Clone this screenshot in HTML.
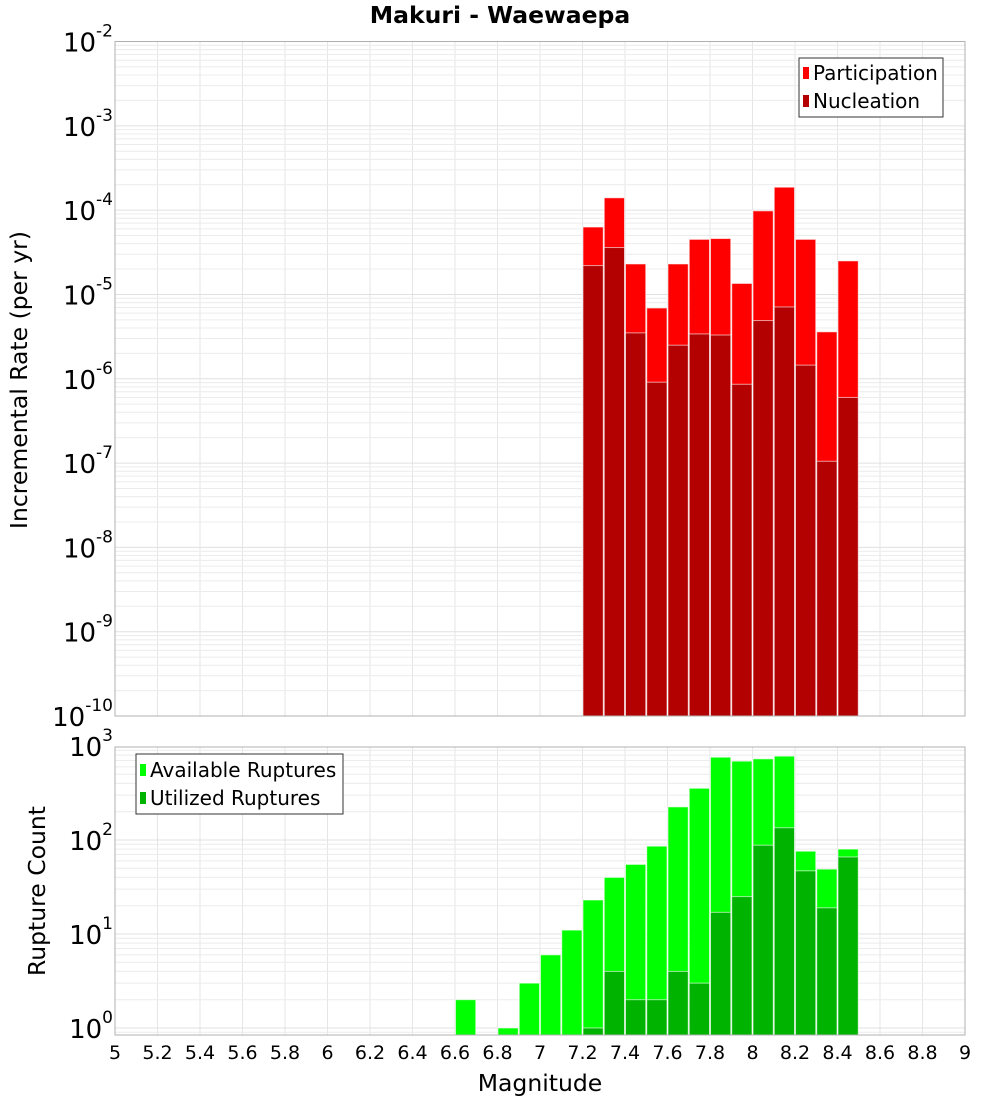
<!DOCTYPE html>
<html><head><meta charset="utf-8"><style>
body{margin:0;background:#fff;}
svg{display:block;font-family:"DejaVu Sans","Liberation Sans",sans-serif;}
</style></head><body>
<svg id="chart" width="1000" height="1100" viewBox="0 0 1000 1100" xmlns="http://www.w3.org/2000/svg">
<g id="grid"></g><g id="bars"></g><g id="axes"></g>
</svg>
<script>
const binStarts = [7.2,7.3,7.4,7.5,7.6,7.7,7.8,7.9,8.0,8.1,8.2,8.3,8.4];
const participation = [6.3e-5,1.4e-4,2.3e-5,6.9e-6,2.3e-5,4.5e-5,4.6e-5,1.35e-5,9.8e-5,1.87e-4,4.5e-5,3.6e-6,2.5e-5];
const nucleation = [2.2e-5,3.6e-5,3.5e-6,9.1e-7,2.5e-6,3.4e-6,3.3e-6,8.6e-7,4.9e-6,7.1e-6,1.45e-6,1.05e-7,6.0e-7];
const countBins = [6.6,6.8,6.9,7.0,7.1,7.2,7.3,7.4,7.5,7.6,7.7,7.8,7.9,8.0,8.1,8.2,8.3,8.4];
const available = [2,1,3,6,11,23,40,55,86,225,355,760,690,730,780,76,49,80];
const utilBins = [7.2,7.3,7.4,7.5,7.6,7.7,7.8,7.9,8.0,8.1,8.2,8.3,8.4];
const utilized = [1,4,2,2,4,3,17,25,88,135,47,19,66];
const xTicks = [5,5.2,5.4,5.6,5.8,6,6.2,6.4,6.6,6.8,7,7.2,7.4,7.6,7.8,8,8.2,8.4,8.6,8.8,9];
const topExps = [-2,-3,-4,-5,-6,-7,-8,-9,-10];
const botExps = [3,2,1,0];

const NS="http://www.w3.org/2000/svg";
const X0=115,X1=965;
const x=m=>X0+(m-5)*(X1-X0)/4;
const T0=41.5,T1=716;
const yTop=v=>T0+(-2-Math.log10(v))*(T1-T0)/8;
const B0=747,B1=1035;
const yBot=v=>1028-Math.log10(v)*94;
function el(tag,attrs,parent,txt){const e=document.createElementNS(NS,tag);for(const k in attrs)e.setAttribute(k,attrs[k]);if(txt!==undefined)e.textContent=txt;parent.appendChild(e);return e;}
const grid=document.getElementById('grid'),bars=document.getElementById('bars'),axes=document.getElementById('axes');

function drawGrid(top,bot,yf,eLo,eHi){
  xTicks.forEach(t=>{el('line',{x1:x(t),x2:x(t),y1:top,y2:bot,stroke:'#e6e6e6','stroke-width':1},grid);});
  for(let e=eLo;e<eHi;e++)for(let k=1;k<10;k++){const yy=yf(k*Math.pow(10,e));if(yy>=top&&yy<=bot)el('line',{x1:X0,x2:X1,y1:yy,y2:yy,stroke:k==1?'#e0e0e0':'#ececec','stroke-width':1},grid);}
}
drawGrid(T0,T1,yTop,-10,-2);
drawGrid(B0,B1,yBot,-1,3);

const w=(X1-X0)/40;
function bar(m,v,yf,base,fill,name){
  const yy=yf(v);
  const r=el('rect',{x:x(m)+0.5,y:yy,width:w-1,height:base-yy,fill:fill,stroke:'rgba(255,255,255,0.6)','stroke-width':1},bars);
  
  
}
binStarts.forEach((m,i)=>bar(m,participation[i],yTop,T1,'#ff0000','participation-bar'));
binStarts.forEach((m,i)=>bar(m,nucleation[i],yTop,T1,'#b30000','nucleation-bar'));
countBins.forEach((m,i)=>bar(m,available[i],yBot,B1,'#00ff00','available-bar'));
utilBins.forEach((m,i)=>bar(m,utilized[i],yBot,B1,'#00b300','utilized-bar'));

el('rect',{x:X0,y:T0,width:X1-X0,height:T1-T0,fill:'none',stroke:'#b0b0b0'},axes);
el('rect',{x:X0,y:B0,width:X1-X0,height:B1-B0,fill:'none',stroke:'#b0b0b0'},axes);

function ylab(e,yy,name){
  const t=el('text',{x:113,y:yy+10,'text-anchor':'end','font-size':26,fill:'#000'},axes);
  
  
  const a=document.createElementNS(NS,'tspan');a.textContent='10';t.appendChild(a);
  const b=document.createElementNS(NS,'tspan');b.setAttribute('dy','-15');b.setAttribute('font-size','17');b.textContent=String(e);t.appendChild(b);
}
topExps.forEach(e=>ylab(e,yTop(Math.pow(10,e)),'top-y-tick-label'));
botExps.forEach(e=>ylab(e,yBot(Math.pow(10,e)),'bottom-y-tick-label'));
xTicks.forEach(t=>{
  const tx=el('text',{x:x(t),y:1059,'text-anchor':'middle','font-size':19,fill:'#000'},axes,String(t));
  
  
});
</script>
<svg width="1000" height="1100" style="position:absolute;left:0;top:0" xmlns="http://www.w3.org/2000/svg">
<text x="500" y="23" text-anchor="middle" font-size="23.5" font-weight="bold" font-family="DejaVu Sans, Liberation Sans, sans-serif">Makuri - Waewaepa</text>
<text x="540" y="1091" text-anchor="middle" font-size="23.5" font-family="DejaVu Sans, Liberation Sans, sans-serif">Magnitude</text>
<text transform="translate(27,380) rotate(-90)" text-anchor="middle" font-size="23.5" font-family="DejaVu Sans, Liberation Sans, sans-serif">Incremental Rate (per yr)</text>
<text transform="translate(45,891) rotate(-90)" text-anchor="middle" font-size="23.5" font-family="DejaVu Sans, Liberation Sans, sans-serif">Rupture Count</text>
<g font-family="DejaVu Sans, Liberation Sans, sans-serif" font-size="20">
<rect x="799" y="58" width="144" height="59" fill="#fff" stroke="#333" stroke-width="1"/>
<rect x="803" y="67" width="6" height="12" fill="#ff0000"/>
<text x="813" y="80">Participation</text>
<rect x="803" y="95" width="6" height="12" fill="#b30000"/>
<text x="813" y="108">Nucleation</text>
</g>
<g font-family="DejaVu Sans, Liberation Sans, sans-serif" font-size="20">
<rect x="136" y="754" width="207" height="60" fill="#fff" stroke="#333" stroke-width="1"/>
<rect x="140" y="764" width="6" height="12" fill="#00ff00"/>
<text x="150" y="777">Available Ruptures</text>
<rect x="140" y="792" width="6" height="12" fill="#00b300"/>
<text x="150" y="805">Utilized Ruptures</text>
</g>
</svg>
</body></html>
